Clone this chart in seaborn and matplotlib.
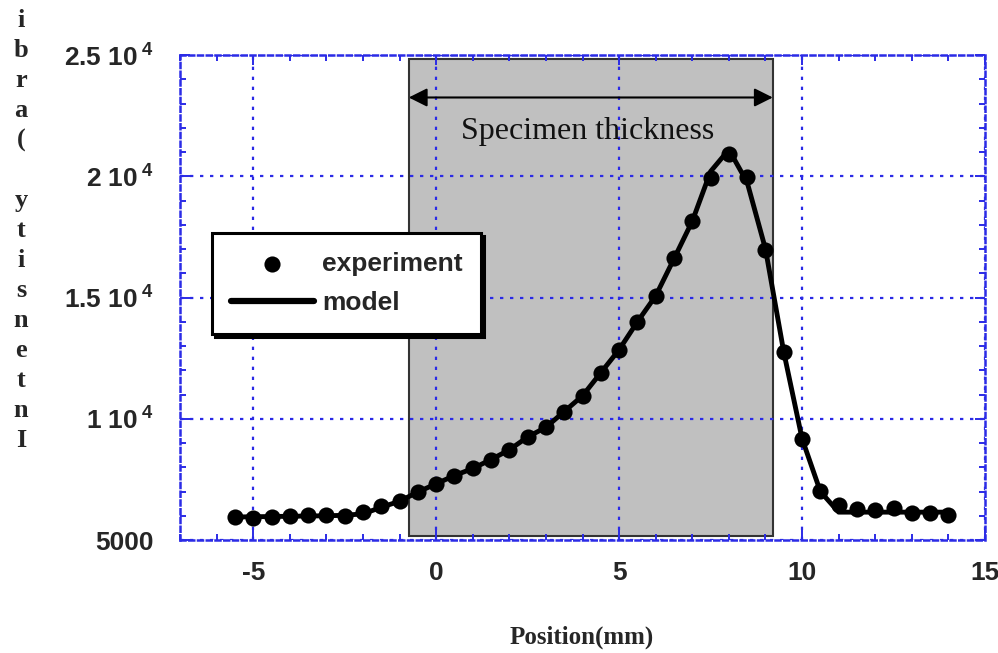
import matplotlib as mpl
mpl.use('agg')
import matplotlib.pyplot as plt
from matplotlib.ticker import MultipleLocator, FixedLocator
import seaborn as sns

# measured profile, position in mm
position = [-5.5, -5.0, -4.5, -4.0, -3.5, -3.0, -2.5, -2.0, -1.5, -1.0,
            -0.5, 0.0, 0.5, 1.0, 1.5, 2.0, 2.5, 3.0, 3.5, 4.0,
            4.5, 5.0, 5.5, 6.0, 6.5, 7.0, 7.5, 8.0, 8.5, 9.0,
            9.5, 10.0, 10.5, 11.0, 11.5, 12.0, 12.5, 13.0, 13.5, 14.0]
experiment = [5950, 5900, 5950, 6000, 6050, 6050, 6000, 6150, 6400, 6600,
              6980, 7320, 7660, 7950, 8320, 8720, 9250, 9650, 10300, 10950,
              11900, 12850, 14000, 15070, 16610, 18160, 19950, 20900, 19990, 16970,
              12750, 9180, 7010, 6430, 6300, 6230, 6330, 6120, 6120, 6050]
model = [5950, 5960, 5970, 5980, 5990, 6000, 6020, 6080, 6350, 6600,
         6980, 7320, 7660, 7950, 8320, 8720, 9250, 9650, 10300, 10950,
         11900, 12850, 14000, 15070, 16600, 18150, 20200, 21100, 19750, 17000,
         12750, 9180, 7000, 6150, 6150, 6150, 6150, 6150, 6150, 6150]

# specimen extent (mm)
spec_left, spec_right = -0.75, 9.2

yticks = [5000, 10000, 15000, 20000, 25000]
ytick_labels = ['5000', '1 10$\\,^{4}$', '1.5 10$\\,^{4}$', '2 10$\\,^{4}$', '2.5 10$\\,^{4}$']
xticks = [-5, 0, 5, 10, 15]

sns.set_theme(style='white')
plt.rcParams['font.family'] = ['Liberation Sans', 'DejaVu Sans']
plt.rcParams['mathtext.fontset'] = 'custom'
plt.rcParams['mathtext.rm'] = 'Liberation Sans:bold'
plt.rcParams['mathtext.it'] = 'Liberation Sans:bold'
plt.rcParams['mathtext.bf'] = 'Liberation Sans:bold'

blue = '#2b2be6'

fig = plt.figure(figsize=(9.98, 6.53), dpi=100)
ax = fig.add_axes([0.1804, 0.173, 0.8066, 0.7427])

ax.axvspan(spec_left, spec_right, ymin=0.008, ymax=0.992,
           facecolor='#c0c0c0', edgecolor='#333333', lw=1.5, zorder=1)

sns.lineplot(x=position, y=model, color='black', lw=3.5, label='model',
             ax=ax, zorder=3)
sns.scatterplot(x=position, y=experiment, color='black', s=135,
                edgecolor='black', linewidth=0, label='experiment',
                ax=ax, zorder=4)

ax.set_xlim(-7, 15)
ax.set_ylim(5000, 25000)
ax.xaxis.set_major_locator(FixedLocator(xticks))
ax.xaxis.set_minor_locator(MultipleLocator(1))
ax.yaxis.set_major_locator(FixedLocator(yticks))
ax.yaxis.set_minor_locator(MultipleLocator(1000))
ax.set_yticklabels(ytick_labels)
ax.set_xticklabels([str(t) for t in xticks])

ax.set_axisbelow('line')
ax.grid(True, which='major', color=blue, linestyle=(0, (1.5, 3)), lw=1.6)

ax.tick_params(which='both', direction='in', top=True, right=True,
               bottom=True, left=True, color=blue, width=1.4)
ax.tick_params(which='major', length=7)
ax.tick_params(which='minor', length=4)
ax.tick_params(axis='y', which='major', pad=19, labelsize=19)
ax.tick_params(axis='x', which='major', pad=15, labelsize=19)
for lab in ax.get_xticklabels() + ax.get_yticklabels():
    lab.set_fontweight('bold')

for sp in ax.spines.values():
    sp.set_color(blue)
    sp.set_linestyle((0, (2, 1.5)))
    sp.set_linewidth(1.8)

ax.set_xlabel('')
ax.set_ylabel('')

# double arrow and label for specimen thickness
ax.annotate('', xy=(spec_left, 23250), xytext=(spec_right, 23250),
            arrowprops=dict(arrowstyle='<|-|>', color='black', lw=1.5,
                            mutation_scale=28, shrinkA=0, shrinkB=0),
            zorder=5)
ax.text(4.13, 21850, 'Specimen thickness', family='Liberation Serif',
        fontsize=23, ha='center', va='center', color='#111111', zorder=5)

handles, labels = ax.get_legend_handles_labels()
order = [labels.index('experiment'), labels.index('model')]
leg = ax.legend([handles[i] for i in order], [labels[i] for i in order],
                loc='upper left', bbox_to_anchor=(0.04, 0.633),
                prop={'family': 'Liberation Sans', 'weight': 'bold', 'size': 19},
                frameon=True, fancybox=False, shadow={'color': 'black', 'alpha': 1},
                edgecolor='black', framealpha=1, borderpad=0.7,
                handlelength=3.15, handletextpad=0.3, labelspacing=0.6,
                borderaxespad=0)
leg.get_frame().set_linewidth(2.2)
leg.legend_handles[1].set_linewidth(4.5)
leg.set_zorder(10)

# stacked axis title, drawn letter by letter (baselines in pixels from top)
ylabel_chars = ['i', 'b', 'r', 'a', '(', 'y', 't', 'i', 's', 'n', 'e', 't', 'n', 'I']
ylabel_base = [27, 57, 87, 117, 147, 207, 237, 267, 297, 327, 357, 387, 417, 447]
for ch, yb in zip(ylabel_chars, ylabel_base):
    fig.text(21 / 998, 1 - yb / 653, ch, family='Liberation Serif',
             weight='bold', fontsize=19, ha='center', va='baseline')

fig.text(582 / 998, 1 - 637 / 653, 'Position(mm)', family='Liberation Serif',
         weight='bold', fontsize=18, ha='center', va='center')

fig.savefig('out.png', dpi=100)
